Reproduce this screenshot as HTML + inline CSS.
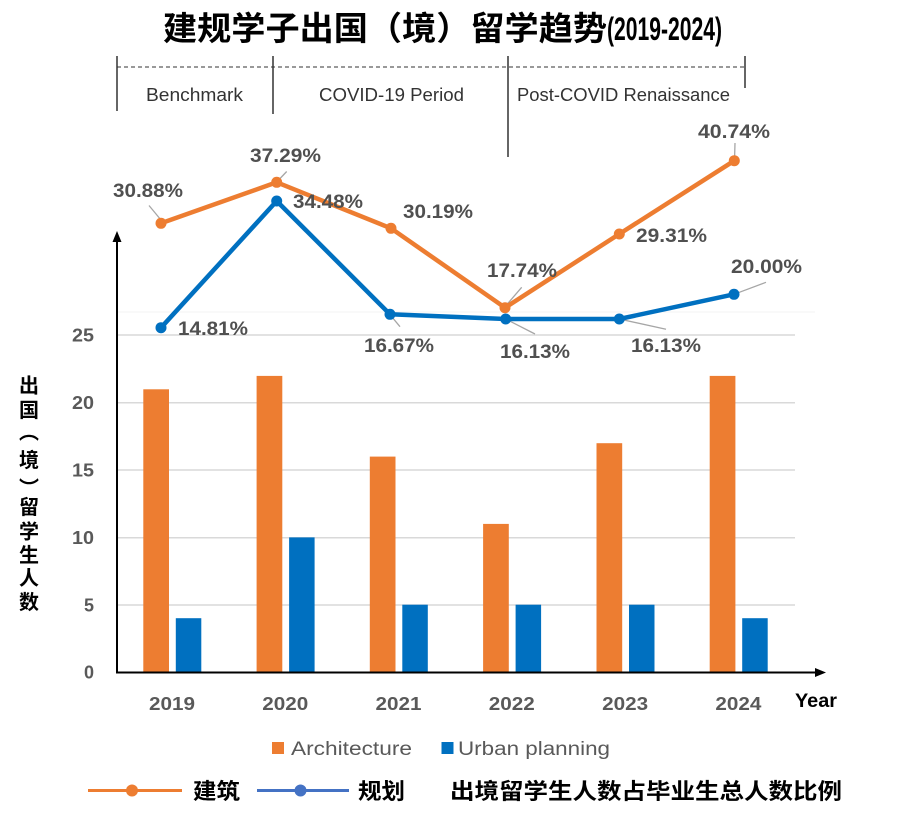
<!DOCTYPE html>
<html>
<head>
<meta charset="utf-8">
<style>
html,body{margin:0;padding:0;background:#fff;}
svg{display:block;}
.cjk{font-family:"Liberation Sans","Noto Sans CJK SC",sans-serif;}
.lat{font-family:"Liberation Sans",sans-serif;}
</style>
</head>
<body>
<svg width="924" height="820" viewBox="0 0 924 820" xmlns="http://www.w3.org/2000/svg">
<rect width="924" height="820" fill="#fff"/>

<!-- Title -->
<text class="cjk" x="163" y="40" font-size="33" font-weight="bold" fill="#000" textLength="444" lengthAdjust="spacingAndGlyphs">建规学子出国（境）留学趋势</text>
<text class="lat" x="607" y="40" font-size="32" font-weight="bold" fill="#000" textLength="115" lengthAdjust="spacingAndGlyphs">(2019-2024)</text>

<!-- Period header -->
<line x1="117" y1="67" x2="745" y2="67" stroke="#333" stroke-width="1" stroke-dasharray="4,3"/>
<line x1="117" y1="56" x2="117" y2="111" stroke="#333" stroke-width="1.5"/>
<line x1="273" y1="56" x2="273" y2="114" stroke="#333" stroke-width="1.5"/>
<line x1="508" y1="56" x2="508" y2="157" stroke="#333" stroke-width="1.5"/>
<line x1="745" y1="56" x2="745" y2="88" stroke="#333" stroke-width="1.5"/>
<text class="lat" x="146" y="101" font-size="18" fill="#333" textLength="97" lengthAdjust="spacingAndGlyphs">Benchmark</text>
<text class="lat" x="319" y="101" font-size="18" fill="#333" textLength="145" lengthAdjust="spacingAndGlyphs">COVID-19 Period</text>
<text class="lat" x="517" y="101" font-size="18" fill="#333" textLength="213" lengthAdjust="spacingAndGlyphs">Post-COVID Renaissance</text>

<!-- faint separator -->
<line x1="117" y1="312" x2="815" y2="312" stroke="#f3f3f3" stroke-width="1"/>

<!-- Gridlines -->
<g stroke="#d9d9d9" stroke-width="1.5">
<line x1="117" y1="335" x2="795" y2="335"/>
<line x1="117" y1="402.7" x2="795" y2="402.7"/>
<line x1="117" y1="470" x2="795" y2="470"/>
<line x1="117" y1="537.7" x2="795" y2="537.7"/>
<line x1="117" y1="605" x2="795" y2="605"/>
</g>

<!-- Y tick labels -->
<g class="lat" font-size="18" font-weight="bold" fill="#595959" text-anchor="end">
<text x="94" y="341.5" textLength="22" lengthAdjust="spacingAndGlyphs">25</text>
<text x="94" y="409" textLength="22" lengthAdjust="spacingAndGlyphs">20</text>
<text x="94" y="476.5" textLength="22" lengthAdjust="spacingAndGlyphs">15</text>
<text x="94" y="544" textLength="22" lengthAdjust="spacingAndGlyphs">10</text>
<text x="94" y="611.5">5</text>
<text x="94" y="678.5">0</text>
</g>

<!-- Y axis title (vertical) -->
<g class="cjk" font-size="20" font-weight="bold" fill="#000" text-anchor="middle" dominant-baseline="central">
<text x="29" y="386.5">出</text>
<text x="29" y="411">国</text>
<text x="29" y="433">︵</text>
<text x="29" y="461">境</text>
<text x="29" y="489">︶</text>
<text x="29" y="508">留</text>
<text x="29" y="532.5">学</text>
<text x="29" y="556">生</text>
<text x="29" y="579">人</text>
<text x="29" y="603">数</text>
</g>

<!-- Bars -->
<g fill="#ED7D31">
<rect x="143.3" y="389.3" width="25.7" height="282.7"/>
<rect x="256.6" y="375.9" width="25.7" height="296.1"/>
<rect x="369.8" y="456.6" width="25.7" height="215.4"/>
<rect x="483.1" y="523.9" width="25.7" height="148.1"/>
<rect x="596.5" y="443.2" width="25.7" height="228.8"/>
<rect x="709.7" y="375.9" width="25.7" height="296.1"/>
</g>
<g fill="#0070C0">
<rect x="175.8" y="618.2" width="25.5" height="53.8"/>
<rect x="289.1" y="537.4" width="25.5" height="134.6"/>
<rect x="402.3" y="604.7" width="25.5" height="67.3"/>
<rect x="515.6" y="604.7" width="25.5" height="67.3"/>
<rect x="629" y="604.7" width="25.5" height="67.3"/>
<rect x="742.2" y="618.2" width="25.5" height="53.8"/>
</g>

<!-- Axes -->
<line x1="117" y1="673" x2="117" y2="240" stroke="#000" stroke-width="2"/>
<polygon points="117,231 112.5,242 121.5,242" fill="#000"/>
<line x1="116" y1="672.5" x2="816" y2="672.5" stroke="#000" stroke-width="2"/>
<polygon points="826,672.5 815,668 815,677" fill="#000"/>

<!-- X tick labels -->
<g class="lat" font-size="18" font-weight="bold" fill="#595959" text-anchor="middle">
<text x="172" y="710" textLength="46" lengthAdjust="spacingAndGlyphs">2019</text>
<text x="285.3" y="710" textLength="46" lengthAdjust="spacingAndGlyphs">2020</text>
<text x="398.5" y="710" textLength="46" lengthAdjust="spacingAndGlyphs">2021</text>
<text x="511.8" y="710" textLength="46" lengthAdjust="spacingAndGlyphs">2022</text>
<text x="625.2" y="710" textLength="46" lengthAdjust="spacingAndGlyphs">2023</text>
<text x="738.4" y="710" textLength="46" lengthAdjust="spacingAndGlyphs">2024</text>
</g>
<text class="lat" x="795" y="707" font-size="19" font-weight="bold" fill="#000" textLength="42" lengthAdjust="spacingAndGlyphs">Year</text>

<!-- Leader lines -->
<g stroke="#a6a6a6" stroke-width="1.3">
<line x1="149" y1="205.5" x2="161" y2="220"/>
<line x1="276.7" y1="182" x2="286.7" y2="171.5"/>
<line x1="391.7" y1="316.7" x2="400" y2="326.7"/>
<line x1="505" y1="306.7" x2="521.7" y2="287.3"/>
<line x1="505.7" y1="319" x2="535" y2="334"/>
<line x1="619.3" y1="319" x2="666" y2="329.3"/>
<line x1="734" y1="294.3" x2="766" y2="282.3"/>
<line x1="734.5" y1="160.7" x2="735" y2="143"/>
</g>

<!-- Orange line -->
<polyline points="161,223.3 276.7,182.3 391,228.3 505,307.7 619.3,234 734.3,160.7" fill="none" stroke="#ED7D31" stroke-width="4.5" stroke-linejoin="round"/>
<g fill="#ED7D31">
<circle cx="161" cy="223.3" r="5.5"/>
<circle cx="276.7" cy="182.3" r="5.5"/>
<circle cx="391" cy="228.3" r="5.5"/>
<circle cx="505" cy="307.7" r="5.5"/>
<circle cx="619.3" cy="234" r="5.5"/>
<circle cx="734.3" cy="160.7" r="5.5"/>
</g>

<!-- Blue line -->
<polyline points="161,327.7 276.7,201 390,314.3 505.7,319 619.3,319 734,294.3" fill="none" stroke="#0070C0" stroke-width="4.5" stroke-linejoin="round"/>
<g fill="#0070C0">
<circle cx="161" cy="327.7" r="5.5"/>
<circle cx="276.7" cy="201" r="5.5"/>
<circle cx="390" cy="314.3" r="5.5"/>
<circle cx="505.7" cy="319" r="5.5"/>
<circle cx="619.3" cy="319" r="5.5"/>
<circle cx="734" cy="294.3" r="5.5"/>
</g>

<!-- Percent labels -->
<g class="lat" font-size="19" font-weight="bold" fill="#505050">
<text x="113" y="197" textLength="70" lengthAdjust="spacingAndGlyphs">30.88%</text>
<text x="250" y="162" textLength="71" lengthAdjust="spacingAndGlyphs">37.29%</text>
<text x="293" y="208" textLength="70" lengthAdjust="spacingAndGlyphs">34.48%</text>
<text x="403" y="218" textLength="70" lengthAdjust="spacingAndGlyphs">30.19%</text>
<text x="178" y="335" textLength="70" lengthAdjust="spacingAndGlyphs">14.81%</text>
<text x="364" y="352" textLength="70" lengthAdjust="spacingAndGlyphs">16.67%</text>
<text x="487" y="277" textLength="70" lengthAdjust="spacingAndGlyphs">17.74%</text>
<text x="636" y="242" textLength="71" lengthAdjust="spacingAndGlyphs">29.31%</text>
<text x="731" y="273" textLength="71" lengthAdjust="spacingAndGlyphs">20.00%</text>
<text x="500" y="358" textLength="70" lengthAdjust="spacingAndGlyphs">16.13%</text>
<text x="631" y="352" textLength="70" lengthAdjust="spacingAndGlyphs">16.13%</text>
<text x="698" y="138" textLength="72" lengthAdjust="spacingAndGlyphs">40.74%</text>
</g>

<!-- Bar legend -->
<rect x="272" y="742" width="12" height="12" fill="#ED7D31"/>
<text class="lat" x="291" y="755" font-size="19" fill="#595959" textLength="121" lengthAdjust="spacingAndGlyphs">Architecture</text>
<rect x="441.5" y="742" width="12" height="12" fill="#0070C0"/>
<text class="lat" x="458" y="755" font-size="19" fill="#595959" textLength="152" lengthAdjust="spacingAndGlyphs">Urban planning</text>

<!-- Line legend -->
<line x1="88" y1="790.5" x2="182" y2="790.5" stroke="#ED7D31" stroke-width="3"/>
<circle cx="132" cy="790.5" r="6" fill="#ED7D31"/>
<text class="cjk" x="193" y="799" font-size="22" font-weight="bold" fill="#000" textLength="47" lengthAdjust="spacingAndGlyphs">建筑</text>
<line x1="257" y1="790.5" x2="349" y2="790.5" stroke="#4472C4" stroke-width="3"/>
<circle cx="300.5" cy="790.5" r="6" fill="#4472C4"/>
<text class="cjk" x="358" y="799" font-size="22" font-weight="bold" fill="#000" textLength="47" lengthAdjust="spacingAndGlyphs">规划</text>
<text class="cjk" x="450" y="799" font-size="22" font-weight="bold" fill="#000" textLength="392" lengthAdjust="spacingAndGlyphs">出境留学生人数占毕业生总人数比例</text>
</svg>
</body>
</html>
